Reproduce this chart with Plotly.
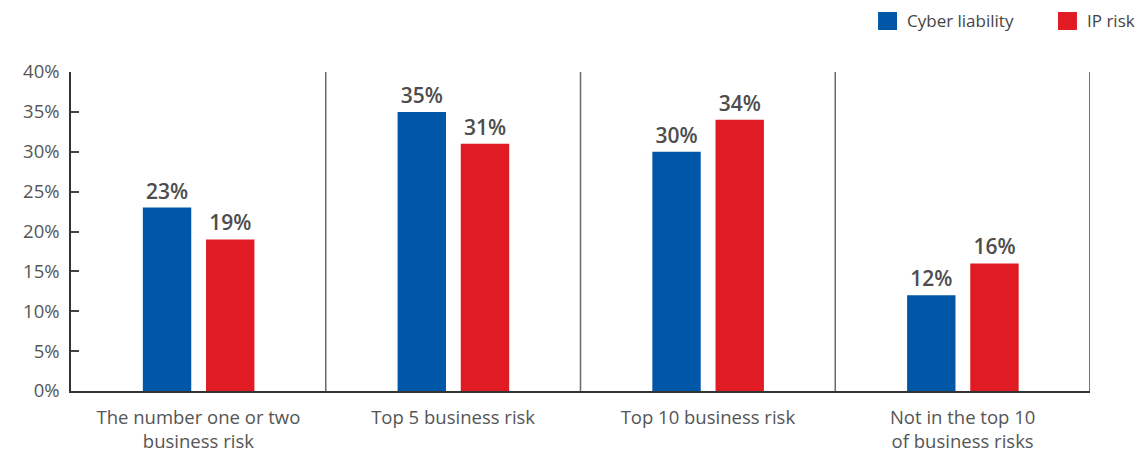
import plotly.graph_objects as go

# Survey results: share of respondents ranking each risk
categories = [
    "The number one or two<br>business risk",
    "Top 5 business risk",
    "Top 10 business risk",
    "Not in the top 10<br>of business risks",
]
cyber_liability = [23, 35, 30, 12]
ip_risk = [19, 31, 34, 16]
y_ticks = [0, 5, 10, 15, 20, 25, 30, 35, 40]
series_names = ["Cyber liability", "IP risk"]

BLUE = "#0057A7"
RED = "#E01B23"
FONT = "Open Sans"

fig = go.Figure()

bar_width = 0.19
for name, values, color, offset in [
    (series_names[0], cyber_liability, BLUE, -0.218),
    (series_names[1], ip_risk, RED, 0.030),
]:
    fig.add_trace(go.Bar(
        x=categories,
        y=values,
        name=name,
        marker=dict(color=color, line=dict(width=0)),
        width=bar_width,
        offset=offset,
        text=[f"{v}%" for v in values],
        textposition="outside",
        textfont=dict(family=FONT, size=21, color="#4d4d4d", weight=600),
        cliponaxis=False,
        showlegend=False,
    ))

# category separators and right border
for xpos in [0.5, 1.5, 2.5, 3.5]:
    fig.add_shape(
        type="line", xref="x", yref="y",
        x0=xpos, x1=xpos, y0=0, y1=40,
        line=dict(color="#6a6a6a" if xpos < 3.5 else "#444444", width=1.5),
    )

# legend: square swatch followed by its label, top right
legend_items = [
    (series_names[0], BLUE, 0.7920),
    (series_names[1], RED, 0.9686),
]
for name, color, x0 in legend_items:
    fig.add_shape(
        type="rect", xref="paper", yref="paper",
        x0=x0, x1=x0 + 0.0186, y0=1.1317, y1=1.1881,
        fillcolor=color, line=dict(width=0),
    )
    fig.add_annotation(
        xref="paper", yref="paper",
        x=x0 + 0.0264, y=1.1599,
        xanchor="left", yanchor="middle",
        text=name, showarrow=False,
        font=dict(family=FONT, size=17, color="#444444"),
    )

fig.update_layout(
    width=1147,
    height=453,
    margin=dict(l=71, r=57, t=72, b=62, autoexpand=False),
    paper_bgcolor="white",
    plot_bgcolor="white",
    barmode="overlay",
    showlegend=False,
    font=dict(family=FONT, color="#555555", size=18.5),
    xaxis=dict(
        type="category",
        range=[-0.5, 3.5],
        showline=True,
        linecolor="#333333",
        linewidth=1.5,
        ticks="",
        ticklabelstandoff=9,
        showgrid=False,
        tickfont=dict(family=FONT, size=18.5, color="#555555"),
        fixedrange=True,
    ),
    yaxis=dict(
        range=[0, 40],
        tickvals=y_ticks,
        ticktext=[f"{t}%" for t in y_ticks],
        showline=True,
        linecolor="#333333",
        linewidth=1.5,
        ticks="inside",
        ticklen=8,
        tickcolor="#444444",
        tickwidth=1.5,
        ticklabelstandoff=6,
        showgrid=False,
        zeroline=False,
        tickfont=dict(family=FONT, size=18.5, color="#555555"),
        fixedrange=True,
    ),
)

fig.write_html("out.html")
